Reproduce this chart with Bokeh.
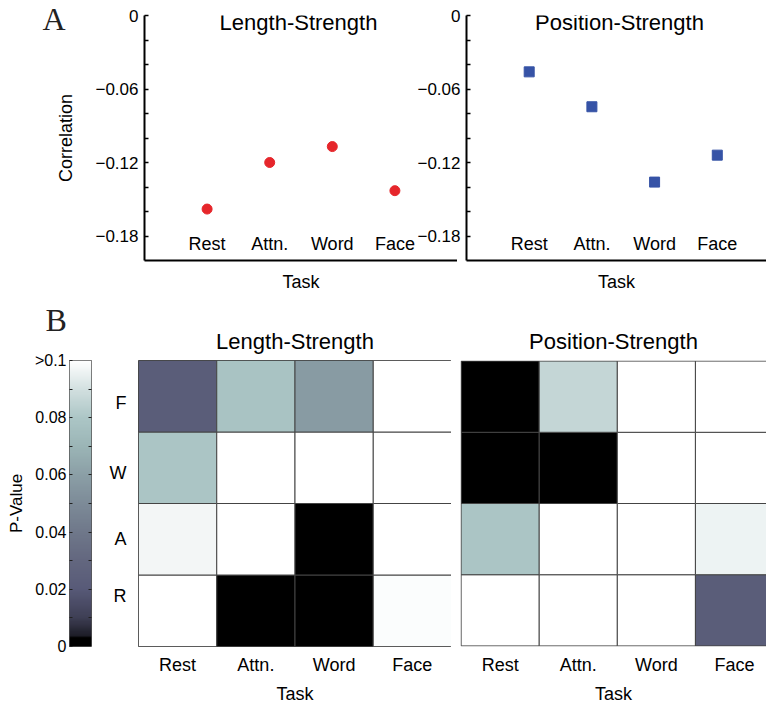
import numpy as np
from bokeh.plotting import figure
from bokeh.layouts import row, column
from bokeh.models import (FixedTicker, Label, LinearColorMapper, Range1d, LinearAxis,
                          ColumnDataSource, CustomJSTickFormatter, Title)
from bokeh.embed import file_html
from bokeh.resources import INLINE

FONT = "Liberation Sans"
SERIF = "Liberation Serif"

# ---------------- data ----------------
tasks = ["Rest", "Attn.", "Word", "Face"]
length_strength_corr = [-0.158, -0.120, -0.107, -0.143]
position_strength_corr = [-0.046, -0.0745, -0.136, -0.114]
corr_ticks = [0.0, -0.06, -0.12, -0.18]
corr_minor_ticks = [-0.02, -0.04, -0.08, -0.10, -0.14, -0.16]

row_labels = ["R", "A", "W", "F"]  # bottom to top
# P-values per row (columns Rest, Attn., Word, Face); 0.100 stands for ">0.1"
ls_p_R = [0.100, 0.000, 0.000, 0.099]
ls_p_A = [0.097, 0.100, 0.000, 0.100]
ls_p_W = [0.079, 0.100, 0.100, 0.100]
ls_p_F = [0.022, 0.078, 0.058, 0.100]
ps_p_R = [0.100, 0.100, 0.100, 0.022]
ps_p_A = [0.079, 0.100, 0.100, 0.096]
ps_p_W = [0.000, 0.000, 0.100, 0.100]
ps_p_F = [0.000, 0.086, 0.100, 0.100]
p_ticks = [0.0, 0.02, 0.04, 0.06, 0.08, 0.1]
p_minor_ticks = [0.01, 0.03, 0.05, 0.07, 0.09]

# ---------------- colormap (style) ----------------
anchor_v = [0.0, 0.003, 0.0035, 0.01, 0.02, 0.03, 0.04, 0.05, 0.06, 0.07, 0.08, 0.09, 0.1]
anchor_c = ["#000000", "#000000", "#1c1c26", "#3e3f55", "#585a78", "#63677f", "#6f788a",
            "#7d8b98", "#8b9fa6", "#9bb5b6", "#acc6c6", "#d2e0e0", "#ffffff"]
rgb = np.array([[int(c[i:i + 2], 16) for i in (1, 3, 5)] for c in anchor_c], float)
levels = np.linspace(0.0, 0.1, 256)
palette = ["#%02x%02x%02x" % tuple(int(round(np.interp(v, anchor_v, rgb[:, k]))) for k in range(3))
           for v in levels]
mapper = LinearColorMapper(palette=palette, low=0.0, high=0.1)


def base_axis_style(ax, size):
    ax.major_label_text_font = FONT
    ax.major_label_text_font_size = size
    ax.axis_label_text_font = FONT
    ax.axis_label_text_font_style = "normal"
    ax.axis_label_text_color = "black"
    ax.major_label_text_color = "black"


def letter_fig(letter, x, y):
    # transparent strip (overlapped by the next row) that only carries the panel letter
    f = figure(width=766, height=40, x_range=Range1d(0, 1), y_range=Range1d(0, 1),
               min_border_left=0, min_border_right=0, min_border_top=0, min_border_bottom=0,
               toolbar_location=None, output_backend="svg", title=None,
               x_axis_location=None, y_axis_location=None, margin=(0, 0, -40, 0))
    f.grid.visible = False
    f.outline_line_color = None
    f.border_fill_color = None
    f.background_fill_color = None
    f.add_layout(Label(x=x, y=y, x_units="screen", y_units="screen", text=letter,
                       text_align="left", text_baseline="alphabetic", text_font=SERIF,
                       text_font_size="32px", text_color="#222222"))
    return f


# ---------------- Panel A ----------------
def corr_fig(values, marker, color, width, border_left, x_end, margin, title, title_x, ylabel):
    p = figure(width=width, height=300, x_range=Range1d(0, x_end), y_range=Range1d(-0.2, 0),
               min_border_left=border_left, min_border_right=0, min_border_top=15,
               min_border_bottom=40, toolbar_location=None, output_backend="svg", title=None,
               margin=margin)
    p.border_fill_color = None
    p.background_fill_color = None
    p.outline_line_color = None
    p.grid.visible = False
    src = ColumnDataSource(dict(x=[1, 2, 3, 4], y=values))
    p.scatter("x", "y", source=src, marker=marker, size=10, fill_color=color, line_color=color)

    ya = p.yaxis[0]
    ya.ticker = FixedTicker(ticks=corr_ticks, minor_ticks=corr_minor_ticks)
    ya.formatter = CustomJSTickFormatter(code="return tick == 0 ? '0' : '\u2212' + Math.abs(tick).toFixed(2);")
    base_axis_style(ya, "17px")
    ya.axis_line_width = 2
    ya.major_tick_in = 4
    ya.major_tick_out = 0
    ya.minor_tick_in = 4
    ya.minor_tick_out = 0
    ya.major_tick_line_width = 1.5
    ya.minor_tick_line_width = 1.5
    ya.major_label_standoff = 6
    if ylabel:
        ya.axis_label = ylabel
        ya.axis_label_text_font_size = "18px"
        ya.axis_label_standoff = 16

    xa = p.xaxis[0]
    xa.ticker = FixedTicker(ticks=[1, 2, 3, 4])
    xa.formatter = CustomJSTickFormatter(args=dict(names=tasks), code="return names[Math.round(tick) - 1];")
    base_axis_style(xa, "18px")
    xa.axis_line_width = 2
    xa.major_tick_in = 0
    xa.major_tick_out = 0
    xa.minor_tick_in = 0
    xa.minor_tick_out = 0
    xa.major_label_standoff = -27
    xa.axis_label = "Task"
    xa.axis_label_text_font_size = "18px"
    xa.axis_label_standoff = 15

    p.add_layout(Label(x=title_x, y=238, x_units="screen", y_units="screen", text=title,
                       text_align="center", text_baseline="alphabetic", text_font=FONT,
                       text_font_size="22px", text_color="black"))
    return p


figA = letter_fig("A", 42, 22)
pA1 = corr_fig(length_strength_corr, "circle", "#e6262b", 457, 144, 5.0, (0, 0, 0, 0),
               "Length-Strength", 154, "Correlation")
pA2 = corr_fig(position_strength_corr, "square", "#3653a6", 356, 56, 4.785, (0, 0, 0, -47),
               "Position-Strength", 153, None)

# ---------------- Panel B ----------------
figB = letter_fig("B", 45, 21)

# color bar figure
pc = figure(width=100, height=406, x_range=Range1d(0, 1), y_range=Range1d(0, 0.1),
            min_border_left=69, min_border_right=9, min_border_top=60, min_border_bottom=58,
            toolbar_location=None, output_backend="svg", title=None, x_axis_location=None)
pc.grid.visible = False
pc.border_fill_color = None
pc.outline_line_color = "#555555"
grad = np.linspace(0.0, 0.1, 256).reshape(-1, 1)
pc.image(image=[grad], x=0, y=0, dw=1, dh=0.1, color_mapper=mapper)
cb_fmt = CustomJSTickFormatter(code="return tick >= 0.099 ? '>0.1' : (tick == 0 ? '0' : tick.toFixed(2));")
cy = pc.yaxis[0]
cy.ticker = FixedTicker(ticks=p_ticks, minor_ticks=p_minor_ticks)
cy.formatter = cb_fmt
base_axis_style(cy, "16px")
cy.axis_line_color = None
cy.major_tick_in = 3
cy.major_tick_out = 0
cy.minor_tick_in = 3
cy.minor_tick_out = 0
cy.major_tick_line_color = "#222222"
cy.minor_tick_line_color = "#222222"
cy.major_label_standoff = 3
cy.axis_label = "P-Value"
cy.axis_label_text_font_size = "17px"
cy.axis_label_standoff = 6
cr = LinearAxis(ticker=FixedTicker(ticks=[], minor_ticks=p_ticks[1:-1] + p_minor_ticks))
cr.axis_line_color = None
cr.minor_tick_in = 3
cr.minor_tick_out = 0
cr.major_label_standoff = 0
cr.minor_tick_line_color = "#222222"
pc.add_layout(cr, "right")


def heat_fig(rows_vals, width, border_left, x_range, y_range, title, show_rows, outline):
    xs, ys, ps = [], [], []
    for j, vals in enumerate(rows_vals):
        for i, v in enumerate(vals):
            xs.append(i + 0.5)
            ys.append(j + 0.5)
            ps.append(v)
    src = ColumnDataSource(dict(x=xs, y=ys, p=ps))
    p = figure(width=width, height=406, x_range=x_range, y_range=y_range,
               min_border_left=border_left, min_border_right=0, min_border_top=57,
               min_border_bottom=57, toolbar_location=None, output_backend="svg", title=None,
               y_axis_location="left" if show_rows else None)
    p.grid.visible = False
    p.border_fill_color = None
    p.outline_line_color = outline
    p.rect("x", "y", width=1, height=1, source=src,
           fill_color={"field": "p", "transform": mapper}, line_color="#444444", line_width=1)
    xa = p.xaxis[0]
    xa.ticker = FixedTicker(ticks=[0.5, 1.5, 2.5, 3.5])
    xa.formatter = CustomJSTickFormatter(args=dict(names=tasks), code="return names[Math.floor(tick)];")
    base_axis_style(xa, "18px")
    xa.axis_line_color = None
    xa.major_tick_out = 0
    xa.major_tick_in = 0
    xa.minor_tick_out = 0
    xa.minor_tick_in = 0
    xa.major_label_standoff = 8
    xa.axis_label = "Task"
    xa.axis_label_text_font_size = "18px"
    xa.axis_label_standoff = 6
    if show_rows:
        ya = p.yaxis[0]
        ya.ticker = FixedTicker(ticks=[0.70, 1.50, 2.42, 3.40])
        ya.formatter = CustomJSTickFormatter(args=dict(names=row_labels), code="return names[Math.floor(tick)];")
        base_axis_style(ya, "18px")
        ya.axis_line_color = None
        ya.major_tick_out = 0
        ya.major_tick_in = 0
        ya.minor_tick_out = 0
        ya.minor_tick_in = 0
        ya.major_label_standoff = 12
    t = Title(text=title, align="center", text_font=FONT, text_font_size="22px",
              text_font_style="normal", text_color="black", standoff=14)
    p.add_layout(t, "above")
    return p


pB1 = heat_fig([ls_p_R, ls_p_A, ls_p_W, ls_p_F], 351, 38, Range1d(0, 4), Range1d(0, 4),
               "Length-Strength", True, "#444444")
pB2 = heat_fig([ps_p_R, ps_p_A, ps_p_W, ps_p_F], 315, 9, Range1d(-0.008, 3.91),
               Range1d(-0.008, 4.008), "Position-Strength", False, None)

layout = column(figA, row(pA1, pA2), figB, row(pc, pB1, pB2))
open("out.html", "w").write(file_html(layout, INLINE))
